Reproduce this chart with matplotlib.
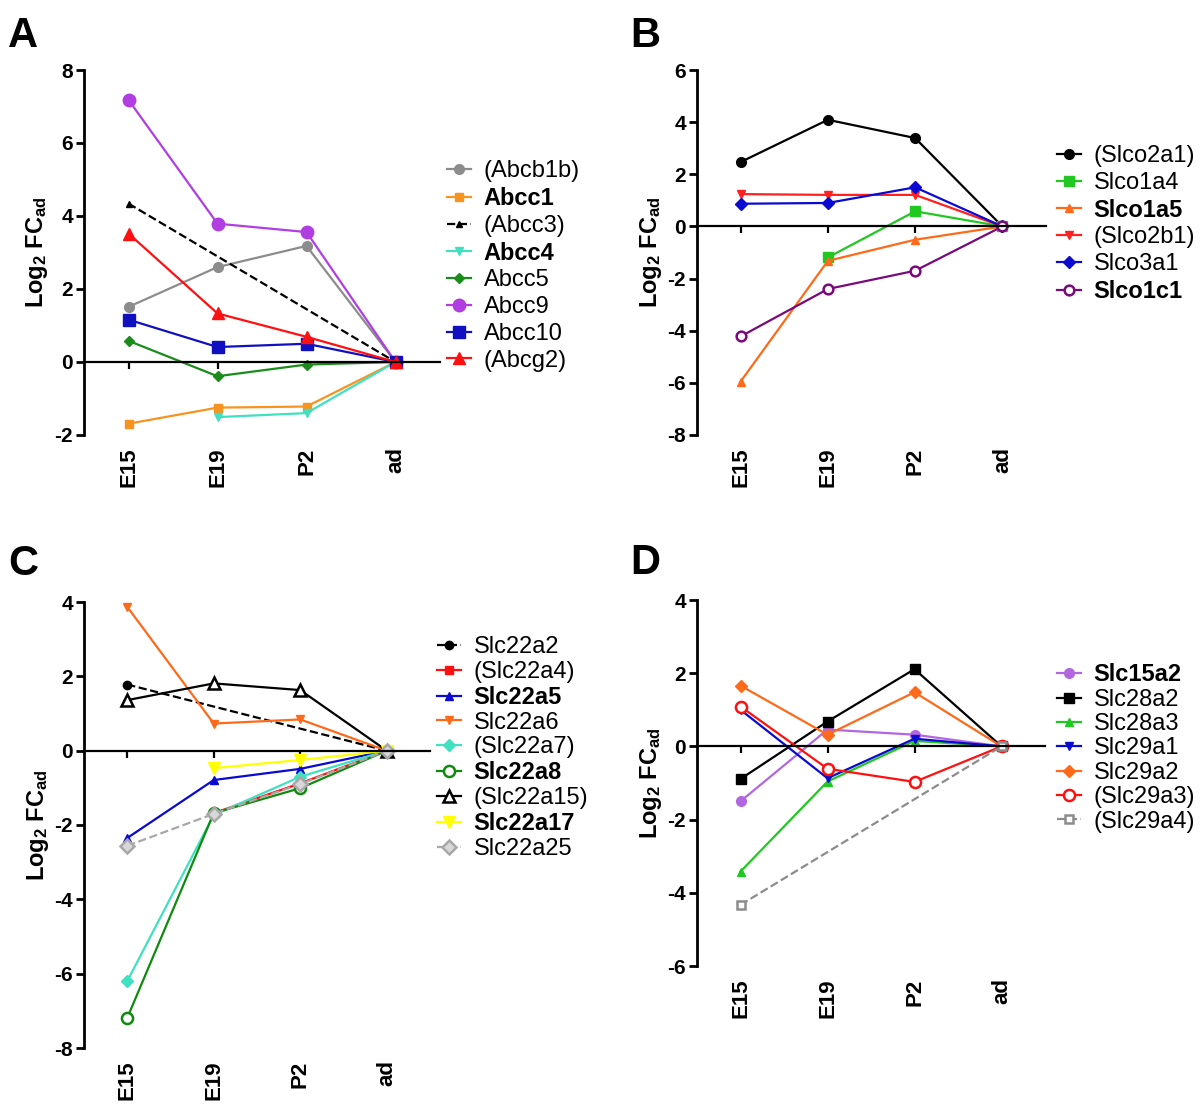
import numpy as np
import matplotlib.pyplot as plt

plt.rcParams['font.family'] = ['Liberation Sans', 'DejaVu Sans']
plt.rcParams['axes.unicode_minus'] = False
plt.rcParams['mathtext.fontset'] = 'custom'
plt.rcParams['mathtext.rm'] = 'Liberation Sans:bold'
plt.rcParams['mathtext.it'] = 'Liberation Sans:bold'
plt.rcParams['mathtext.bf'] = 'Liberation Sans:bold'

stages = ['E15', 'E19', 'P2', 'ad']
N = None

# panel A - ABC transporters
a_genes = ['(Abcb1b)', 'Abcc1', '(Abcc3)', 'Abcc4', 'Abcc5', 'Abcc9', 'Abcc10', '(Abcg2)']
a_bold = [0, 1, 0, 1, 0, 0, 0, 0]
a_values = [
    [1.51, 2.60, 3.18, 0],
    [-1.69, -1.25, -1.22, 0],
    [4.34, N, N, 0],
    [N, -1.51, -1.40, 0],
    [0.58, -0.39, -0.07, 0],
    [7.18, 3.79, 3.56, 0],
    [1.16, 0.41, 0.50, 0],
    [3.52, 1.33, 0.69, 0],
]

# panel B - Slco
b_genes = ['(Slco2a1)', 'Slco1a4', 'Slco1a5', '(Slco2b1)', 'Slco3a1', 'Slco1c1']
b_bold = [0, 0, 1, 0, 0, 1]
b_values = [
    [2.47, 4.09, 3.39, 0],
    [N, -1.19, 0.58, 0],
    [-5.95, -1.32, -0.51, 0],
    [1.24, 1.21, 1.21, 0],
    [0.87, 0.90, 1.50, 0],
    [-4.22, -2.40, -1.70, 0],
]

# panel C - Slc22
c_genes = ['Slc22a2', '(Slc22a4)', 'Slc22a5', 'Slc22a6', '(Slc22a7)', 'Slc22a8',
           '(Slc22a15)', 'Slc22a17', 'Slc22a25']
c_bold = [0, 0, 1, 0, 0, 1, 0, 1, 0]
c_values = [
    [1.78, N, N, 0],
    [N, -1.68, -0.88, 0],
    [-2.35, -0.79, -0.49, 0],
    [3.87, 0.73, 0.84, 0],
    [-6.20, -1.73, -0.70, 0],
    [-7.19, -1.68, -1.01, 0],
    [1.36, 1.81, 1.63, 0],
    [N, -0.47, -0.25, 0],
    [-2.56, -1.70, -0.90, 0],
]

# panel D - Slc15/28/29
d_genes = ['Slc15a2', 'Slc28a2', 'Slc28a3', 'Slc29a1', 'Slc29a2', '(Slc29a3)', '(Slc29a4)']
d_bold = [1, 0, 0, 0, 0, 0, 0]
d_values = [
    [-1.50, 0.46, 0.32, 0],
    [-0.89, 0.68, 2.11, 0],
    [-3.42, -0.96, 0.15, 0],
    [1.00, -0.87, 0.21, 0],
    [1.66, 0.32, 1.48, 0],
    [1.09, -0.61, -0.97, 0],
    [-4.33, N, N, 0],
]

# styles (color, marker, markersize, linestyle, facecolor)
a_styles = [
    ('#8c8c8c', 'o', 7, '-', None),
    ('#f7931e', 's', 6, '-', None),
    ('#000000', '^', 5, '--', None),
    ('#40e0c0', 'v', 6, '-', None),
    ('#1a8c1a', 'D', 5, '-', None),
    ('#b13ee0', 'o', 9, '-', None),
    ('#1010c0', 's', 8, '-', None),
    ('#ff1010', '^', 8, '-', None),
]
b_styles = [
    ('#000000', 'o', 7, '-', None),
    ('#22c822', 's', 7, '-', None),
    ('#ff6a1a', '^', 6, '-', None),
    ('#ff2020', 'v', 6, '-', None),
    ('#0a0ad0', 'D', 6, '-', None),
    ('#7a0a7a', 'o', 7, '-', 'white'),
]
c_styles = [
    ('#000000', 'o', 6, '--', None),
    ('#ff1010', 's', 6, '-', None),
    ('#0a0ad0', '^', 6, '-', None),
    ('#ff6a1a', 'v', 6, '-', None),
    ('#40e0c0', 'D', 6, '-', None),
    ('#0f8a0f', 'o', 8, '-', 'white'),
    ('#000000', '^', 8, '-', 'white'),
    ('#ffff00', 'v', 8, '-', None),
    ('#a8a8a8', 'D', 7, '--', '#d8d8d8'),
]
d_styles = [
    ('#b266e0', 'o', 7, '-', None),
    ('#000000', 's', 7, '-', None),
    ('#22c822', '^', 6, '-', None),
    ('#0a0ad0', 'v', 6, '-', None),
    ('#ff6a1a', 'D', 6, '-', None),
    ('#ff1010', 'o', 8, '-', 'white'),
    ('#8c8c8c', 's', 6, '--', 'white'),
]

W, H = 1200, 1118
fig = plt.figure(figsize=(W / 100, H / 100), dpi=100)


def panel(rect, genes, bold, values, styles, ylim, letter, letter_xy, leg_xy, leg_spacing):
    l, t, r, b = rect
    ax = fig.add_axes([l / W, 1 - b / H, (r - l) / W, (b - t) / H])
    x = np.arange(len(stages))
    for name, v, st in zip(genes, values, styles):
        col, mk, ms, ls, fc = st
        y = np.array([np.nan if q is None else q for q in v], dtype=float)
        m = ~np.isnan(y)
        ax.plot(x[m], y[m], color=col, marker=mk, ms=ms, ls=ls, lw=1.6,
                mfc=fc if fc else col, mec=col, mew=1.8 if fc else 1, label=name)
    ax.set_xlim(-0.5, 3.5)
    ax.set_ylim(*ylim)
    ax.set_yticks(np.arange(ylim[0], ylim[1] + 1, 2))
    for s in ['top', 'right']:
        ax.spines[s].set_visible(False)
    ax.spines['left'].set_linewidth(2)
    ax.spines['bottom'].set_position(('data', 0))
    ax.spines['bottom'].set_linewidth(1.6)
    ax.set_xticks(x)
    ax.tick_params(axis='x', length=5, width=1.6, labelbottom=False)
    ax.tick_params(axis='y', length=6, width=2, labelsize=15, pad=2)
    for tl in ax.get_yticklabels():
        tl.set_fontweight('bold')
    sec = ax.secondary_xaxis('bottom')
    sec.set_xticks(x, stages)
    sec.spines['bottom'].set_visible(False)
    sec.tick_params(length=0, pad=9, labelsize=16, rotation=90)
    for tl in sec.get_xticklabels():
        tl.set_fontweight('bold')
    ax.set_ylabel(r'Log$_2$ FC$_{ad}$', fontsize=17, fontweight='bold')
    ax.yaxis.set_label_coords(-0.095, 0.5)
    leg = ax.legend(loc='center left', bbox_to_anchor=(leg_xy[0] / W, 1 - leg_xy[1] / H),
                    bbox_transform=fig.transFigure, frameon=False, fontsize=17,
                    handlelength=1.0, handletextpad=0.55, labelspacing=leg_spacing,
                    borderpad=0, borderaxespad=0, numpoints=1)
    for tx, bd in zip(leg.get_texts(), bold):
        if bd:
            tx.set_fontweight('bold')
    fig.text(letter_xy[0] / W, 1 - letter_xy[1] / H, letter, fontsize=30,
             fontweight='bold', va='baseline')
    return ax


panel((84, 70, 440, 435), a_genes, a_bold, a_values, a_styles, (-2, 8), 'A', (8, 47), (447, 266), 0.2)
panel((697, 70, 1046, 435), b_genes, b_bold, b_values, b_styles, (-8, 6), 'B', (630, 47), (1057, 224), 0.2)
panel((84, 602, 430, 1048), c_genes, c_bold, c_values, c_styles, (-8, 4), 'C', (8, 575), (437, 748), 0.12)
panel((697, 600, 1045, 966), d_genes, d_bold, d_values, d_styles, (-6, 4), 'D', (630, 574), (1057, 748), 0.1)

fig.savefig('out.png', dpi=100)
